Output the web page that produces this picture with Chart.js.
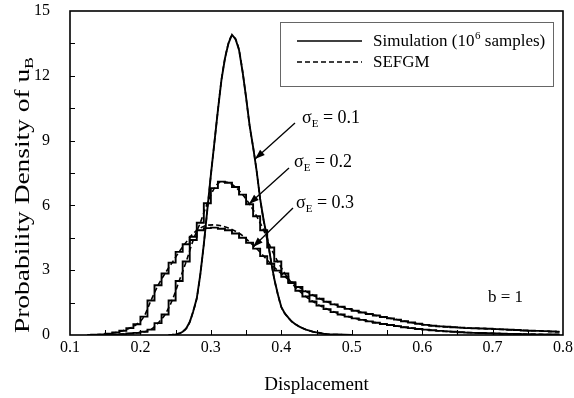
<!DOCTYPE html>
<html><head><meta charset="utf-8">
<script src="https://cdn.jsdelivr.net/npm/chart.js@4/dist/chart.umd.min.js"></script>
<style>html,body{margin:0;padding:0;background:#fff;}canvas{display:block;}</style>
</head><body>
<canvas id="c" width="574" height="398"></canvas>
<script>
// ---- tick labels ----
const xTickValues = [0.1,0.2,0.3,0.4,0.5,0.6,0.7,0.8];
const xTickLabels = ['0.1','0.2','0.3','0.4','0.5','0.6','0.7','0.8'];
const yTickValues = [0,3,6,9,12,15];
const yTickLabels = ['0','3','6','9','12','15'];

// ---- sigma_E = 0.1 ----
const x01 = [0.24,0.245,0.25,0.255,0.26,0.265,0.27,0.275,0.28,0.285,0.29,0.295,0.30,0.305,0.31,0.315,0.32,0.325,0.33,0.335,0.34,0.345,0.35,0.355,0.36,0.365,0.37,0.375,0.38,0.385,0.39,0.395,0.40,0.405,0.41,0.415,0.42,0.425,0.43,0.435,0.44,0.445,0.45,0.455,0.46,0.465,0.47,0.48,0.49,0.50];
const sim01 = [0,0.01,0.03,0.07,0.15,0.3,0.6,1.1,1.7,2.8,4.2,5.8,7.4,8.9,10.4,11.8,12.8,13.5,13.9,13.7,13.2,12.2,11.0,9.7,8.7,7.6,6.3,5.3,4.5,3.5,2.6,1.9,1.3,1.0,0.8,0.62,0.5,0.4,0.32,0.25,0.2,0.15,0.12,0.09,0.06,0.04,0.03,0.02,0.01,0];
const sefgm01 = [0,0.01,0.03,0.07,0.15,0.3,0.6,1.1,1.7,2.8,4.2,5.8,7.4,8.9,10.4,11.8,12.8,13.5,13.85,13.7,13.2,12.2,11.0,9.7,8.7,7.6,6.3,5.3,4.5,3.5,2.6,1.9,1.3,1.0,0.8,0.62,0.5,0.4,0.32,0.25,0.2,0.15,0.12,0.09,0.06,0.04,0.03,0.02,0.01,0];

// ---- histogram bin centres for sigma_E = 0.2 and 0.3 ----
const xBins = [0.125,0.135,0.145,0.155,0.165,0.175,0.185,0.195,0.205,0.215,0.225,0.235,0.245,0.255,0.265,0.275,0.285,0.295,0.305,0.315,0.325,0.335,0.345,0.355,0.365,0.375,0.385,0.395,0.405,0.415,0.425,0.435,0.445,0.455,0.465,0.475,0.485,0.495,0.505,0.515,0.525,0.535,0.545,0.555,0.565,0.575,0.585,0.595,0.605,0.615,0.625,0.635,0.645,0.655,0.665,0.675,0.685,0.695,0.705,0.715,0.725,0.735,0.745,0.755,0.765,0.775,0.785,0.795];

// ---- sigma_E = 0.2 ----
const sim02 = [0,0,0,0.01,0.02,0.04,0.07,0.1,0.15,0.25,0.55,0.95,1.6,2.5,3.4,4.4,5.2,6.1,6.8,7.1,7.05,6.85,6.5,6.05,5.5,4.85,4.05,3.4,2.85,2.4,2.05,1.78,1.55,1.36,1.2,1.06,0.95,0.85,0.77,0.7,0.63,0.57,0.51,0.46,0.41,0.36,0.32,0.28,0.25,0.22,0.19,0.17,0.15,0.13,0.11,0.1,0.09,0.08,0.07,0.06,0.05,0.045,0.04,0.035,0.03,0.025,0.02,0.02];
const sefgm02 = [0,0,0,0.01,0.02,0.04,0.07,0.1,0.15,0.25,0.55,0.95,1.6,2.5,3.4,4.4,5.2,6.1,6.8,7.1,7.05,6.85,6.5,6.05,5.5,4.85,4.05,3.4,2.85,2.4,2.05,1.78,1.55,1.36,1.2,1.06,0.95,0.85,0.77,0.7,0.63,0.57,0.51,0.46,0.41,0.36,0.32,0.28,0.25,0.22,0.19,0.17,0.15,0.13,0.11,0.1,0.09,0.08,0.07,0.06,0.05,0.045,0.04,0.035,0.03,0.025,0.02,0.02];

// ---- sigma_E = 0.3 ----
const sim03 = [0,0.01,0.03,0.06,0.12,0.2,0.32,0.5,0.85,1.6,2.3,2.85,3.35,3.85,4.2,4.55,4.85,4.95,4.97,4.92,4.85,4.7,4.5,4.27,4.0,3.65,3.3,2.98,2.7,2.45,2.22,2.02,1.84,1.68,1.54,1.42,1.31,1.21,1.12,1.04,0.97,0.9,0.83,0.77,0.71,0.64,0.58,0.52,0.47,0.43,0.4,0.38,0.36,0.34,0.32,0.31,0.3,0.29,0.27,0.26,0.24,0.23,0.21,0.2,0.19,0.18,0.16,0.15];
const sefgm03 = [0,0.01,0.03,0.06,0.12,0.2,0.32,0.5,0.85,1.6,2.3,2.85,3.35,3.85,4.3,4.7,4.95,5.08,5.1,5.05,4.95,4.8,4.6,4.3,4.0,3.65,3.3,2.98,2.7,2.45,2.22,2.02,1.84,1.68,1.54,1.42,1.31,1.21,1.12,1.04,0.97,0.9,0.83,0.77,0.71,0.64,0.58,0.52,0.47,0.43,0.4,0.38,0.36,0.34,0.32,0.31,0.3,0.29,0.27,0.26,0.24,0.23,0.21,0.2,0.19,0.18,0.16,0.15];

const pts = (xs, ys) => xs.map((x, i) => ({x: x, y: ys[i]}));
const SERIF = '"Liberation Serif", "Times New Roman", serif';

function simSet(label, xs, ys, stepped) {
  return {label: label, data: pts(xs, ys), borderColor: '#000', borderWidth: 1.9,
    stepped: stepped, pointRadius: 0, fill: false};
}
function sefgmSet(label, xs, ys) {
  return {label: label, data: pts(xs, ys), borderColor: '#000', borderWidth: 1.6,
    borderDash: [5, 3], cubicInterpolationMode: 'monotone', pointRadius: 0, fill: false};
}

function arrow(ctx, x1, y1, x2, y2) {
  ctx.beginPath(); ctx.moveTo(x1, y1); ctx.lineTo(x2, y2); ctx.stroke();
  const a = Math.atan2(y2 - y1, x2 - x1), L = 10, W = 3.5;
  ctx.beginPath();
  ctx.moveTo(x2, y2);
  ctx.lineTo(x2 - L * Math.cos(a) + W * Math.sin(a), y2 - L * Math.sin(a) - W * Math.cos(a));
  ctx.lineTo(x2 - L * Math.cos(a) - W * Math.sin(a), y2 - L * Math.sin(a) + W * Math.cos(a));
  ctx.closePath(); ctx.fill();
}
function sigmaLabel(ctx, x, y, value) {
  ctx.textAlign = 'left'; ctx.textBaseline = 'alphabetic';
  ctx.font = '18px ' + SERIF;
  ctx.fillText('σ', x, y);
  let w = ctx.measureText('σ').width;
  ctx.font = '11px ' + SERIF;
  ctx.fillText('E', x + w, y + 4);
  w += ctx.measureText('E').width;
  ctx.font = '18px ' + SERIF;
  ctx.fillText(' = ' + value, x + w, y);
}

const deco = {
  id: 'deco',
  afterDraw(chart) {
    const ctx = chart.ctx, a = chart.chartArea;
    const xs = chart.scales.x, ys = chart.scales.y;
    ctx.save();
    ctx.strokeStyle = '#000'; ctx.fillStyle = '#000';
    // frame
    ctx.lineWidth = 1.6;
    ctx.strokeRect(a.left, a.top, a.right - a.left, a.bottom - a.top);
    // inward ticks
    ctx.lineWidth = 1;
    ctx.beginPath();
    for (let i = 1; i < 14; i++) {
      const px = Math.round(xs.getPixelForValue(0.1 + i * 0.05)) + 0.5;
      ctx.moveTo(px, a.bottom); ctx.lineTo(px, a.bottom - 5);
    }
    for (let i = 1; i < 10; i++) {
      const py = Math.round(ys.getPixelForValue(i * 1.5)) + 0.5;
      ctx.moveTo(a.left, py); ctx.lineTo(a.left + 5, py);
    }
    ctx.stroke();
    // legend box
    ctx.lineWidth = 1; ctx.strokeStyle = '#666';
    ctx.strokeRect(280.5, 22.5, 273, 64);
    ctx.strokeStyle = '#000';
    ctx.lineWidth = 1.6;
    ctx.beginPath(); ctx.moveTo(297, 41); ctx.lineTo(362, 41); ctx.stroke();
    ctx.setLineDash([5, 3]);
    ctx.beginPath(); ctx.moveTo(297, 62); ctx.lineTo(362, 62); ctx.stroke();
    ctx.setLineDash([]);
    ctx.font = '17px ' + SERIF; ctx.textAlign = 'left'; ctx.textBaseline = 'alphabetic';
    let t1 = 'Simulation (10';
    ctx.fillText(t1, 373, 46);
    let w = ctx.measureText(t1).width;
    ctx.font = '11px ' + SERIF;
    ctx.fillText('6', 373 + w + 0.5, 39);
    w += ctx.measureText('6').width + 0.5;
    ctx.font = '17px ' + SERIF;
    ctx.fillText(' samples)', 373 + w, 46);
    ctx.fillText('SEFGM', 373, 67);
    // annotations
    ctx.lineWidth = 1.3;
    sigmaLabel(ctx, 302, 123, '0.1');
    arrow(ctx, 295, 123, 255, 159);
    sigmaLabel(ctx, 294, 167, '0.2');
    arrow(ctx, 289, 168, 249, 204);
    sigmaLabel(ctx, 296, 208, '0.3');
    arrow(ctx, 293, 208, 253, 247);
    ctx.font = '17px ' + SERIF;
    ctx.fillText('b = 1', 488, 302);
    // x title
    ctx.font = '19px ' + SERIF; ctx.textAlign = 'center';
    ctx.fillText('Displacement', (a.left + a.right) / 2, 390);
    // y title with subscript (text stretched along its length like the source)
    ctx.translate(29, 195);
    ctx.rotate(-Math.PI / 2);
    ctx.font = '20px ' + SERIF;
    const main = 'Probability Density of u';
    const mw = ctx.measureText(main).width;
    ctx.font = '13px ' + SERIF;
    const sw = ctx.measureText('B').width;
    const stretch = 276 / (mw + sw);
    ctx.scale(stretch, 1);
    const x0 = -(mw + sw) / 2;
    ctx.font = '20px ' + SERIF; ctx.textAlign = 'left';
    ctx.fillText(main, x0, 0);
    ctx.font = '13px ' + SERIF;
    ctx.fillText('B', x0 + mw, 4);
    ctx.restore();
  }
};

new Chart(document.getElementById('c'), {
  type: 'line',
  data: {datasets: [
    simSet('Simulation σE = 0.1', x01, sim01, false),
    simSet('Simulation σE = 0.2', xBins, sim02, 'middle'),
    simSet('Simulation σE = 0.3', xBins, sim03, 'middle'),
    sefgmSet('SEFGM σE = 0.1', x01, sefgm01),
    sefgmSet('SEFGM σE = 0.2', xBins, sefgm02),
    sefgmSet('SEFGM σE = 0.3', xBins, sefgm03)
  ]},
  options: {
    responsive: false, animation: false, devicePixelRatio: 1,
    layout: {padding: {top: 11, right: 11, left: 0, bottom: 0}},
    plugins: {legend: {display: false}, tooltip: {enabled: false}},
    scales: {
      x: {type: 'linear', min: 0.1, max: 0.8,
        afterBuildTicks: s => { s.ticks = xTickValues.map(v => ({value: v})); },
        afterFit: s => { s.height = 63; s.paddingLeft = 0; s.paddingRight = 0; },
        ticks: {callback: (v, i) => xTickLabels[i], color: '#000', padding: -5,
          maxRotation: 0, autoSkip: false, font: {family: SERIF, size: 16}},
        grid: {display: false}, border: {display: false}},
      y: {type: 'linear', min: 0, max: 15,
        afterBuildTicks: s => { s.ticks = yTickValues.map(v => ({value: v})); },
        afterFit: s => { s.width = 70; s.paddingTop = 0; s.paddingBottom = 0; },
        ticks: {callback: (v, i) => yTickLabels[i], color: '#000', padding: 12,
          autoSkip: false, font: {family: SERIF, size: 16}},
        grid: {display: false}, border: {display: false}}
    }
  },
  plugins: [deco]
});
</script>
</body></html>
